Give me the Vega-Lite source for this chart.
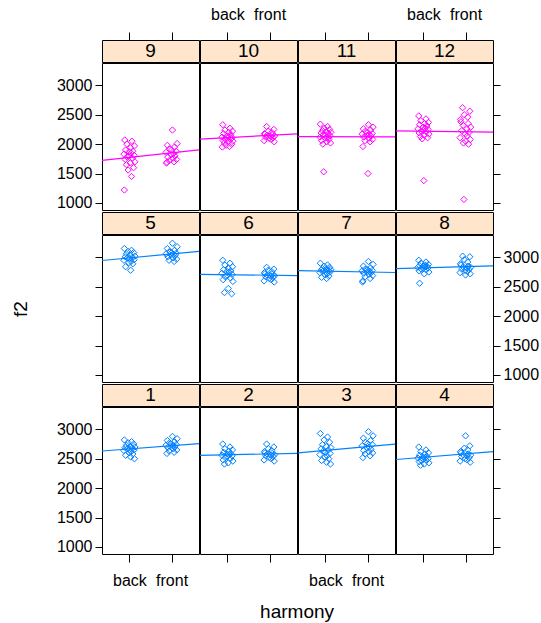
{
"$schema":"https://vega.github.io/schema/vega-lite/v6.json",
"padding":{"left":11,"top":5,"right":3,"bottom":3},
"config":{"font":"Liberation Sans","axis":{"domain":false,"grid":false,"tickColor":"#000000","labelColor":"#000000","labelFontSize":16,"titleFontSize":19,"titleFontWeight":"normal","titleColor":"#000000","tickWidth":1,"labelOverlap":false},"title":{"fontSize":19,"fontWeight":"normal","color":"#000000"},"concat":{"spacing":-5},"line":{"strokeJoin":"round","strokeCap":"butt"}},
"title":{"text":"harmony","orient":"bottom","anchor":"middle","offset":14,"dx":22},
"spacing":-5,
"data":{"values":[
{"panel":9,"hx":0.88,"f2":1220},{"panel":9,"hx":1.05,"f2":1450},{"panel":9,"hx":0.97,"f2":1560},{"panel":9,"hx":1.10,"f2":1600},{"panel":9,"hx":0.93,"f2":1650},{"panel":9,"hx":1.02,"f2":1680},{"panel":9,"hx":1.13,"f2":1700},{"panel":9,"hx":0.90,"f2":1740},{"panel":9,"hx":1.07,"f2":1760},{"panel":9,"hx":0.95,"f2":1780},{"panel":9,"hx":1.00,"f2":1800},{"panel":9,"hx":1.11,"f2":1810},{"panel":9,"hx":0.87,"f2":1830},{"panel":9,"hx":1.04,"f2":1850},{"panel":9,"hx":0.99,"f2":1870},{"panel":9,"hx":1.08,"f2":1880},{"panel":9,"hx":0.91,"f2":1900},{"panel":9,"hx":1.03,"f2":1940},{"panel":9,"hx":1.12,"f2":1970},{"panel":9,"hx":0.94,"f2":2000},{"panel":9,"hx":1.06,"f2":2050},{"panel":9,"hx":0.89,"f2":2070},
{"panel":9,"hx":2.02,"f2":2240},{"panel":9,"hx":2.13,"f2":2010},{"panel":9,"hx":1.90,"f2":1980},{"panel":9,"hx":2.07,"f2":1950},{"panel":9,"hx":1.95,"f2":1920},{"panel":9,"hx":2.00,"f2":1900},{"panel":9,"hx":2.11,"f2":1880},{"panel":9,"hx":1.87,"f2":1860},{"panel":9,"hx":2.04,"f2":1840},{"panel":9,"hx":1.99,"f2":1820},{"panel":9,"hx":2.08,"f2":1800},{"panel":9,"hx":1.91,"f2":1780},{"panel":9,"hx":2.03,"f2":1760},{"panel":9,"hx":2.12,"f2":1740},{"panel":9,"hx":1.94,"f2":1720},{"panel":9,"hx":2.06,"f2":1700},{"panel":9,"hx":1.89,"f2":1690},{"panel":9,"hx":1.88,"f2":1680},
{"panel":10,"hx":0.89,"f2":2330},{"panel":10,"hx":1.06,"f2":2270},{"panel":10,"hx":0.94,"f2":2240},{"panel":10,"hx":1.12,"f2":2220},{"panel":10,"hx":1.03,"f2":2200},{"panel":10,"hx":0.91,"f2":2180},{"panel":10,"hx":1.08,"f2":2160},{"panel":10,"hx":0.99,"f2":2140},{"panel":10,"hx":1.04,"f2":2130},{"panel":10,"hx":0.87,"f2":2120},{"panel":10,"hx":1.11,"f2":2110},{"panel":10,"hx":1.00,"f2":2100},{"panel":10,"hx":0.95,"f2":2090},{"panel":10,"hx":1.07,"f2":2080},{"panel":10,"hx":0.90,"f2":2060},{"panel":10,"hx":1.13,"f2":2050},{"panel":10,"hx":1.02,"f2":2040},{"panel":10,"hx":0.93,"f2":2020},{"panel":10,"hx":1.10,"f2":2000},{"panel":10,"hx":0.97,"f2":1980},{"panel":10,"hx":1.05,"f2":1960},{"panel":10,"hx":0.88,"f2":1950},
{"panel":10,"hx":1.93,"f2":2300},{"panel":10,"hx":2.10,"f2":2250},{"panel":10,"hx":1.97,"f2":2220},{"panel":10,"hx":2.05,"f2":2200},{"panel":10,"hx":1.88,"f2":2180},{"panel":10,"hx":1.89,"f2":2170},{"panel":10,"hx":2.06,"f2":2160},{"panel":10,"hx":1.94,"f2":2150},{"panel":10,"hx":2.12,"f2":2140},{"panel":10,"hx":2.03,"f2":2130},{"panel":10,"hx":1.91,"f2":2120},{"panel":10,"hx":2.08,"f2":2110},{"panel":10,"hx":1.99,"f2":2100},{"panel":10,"hx":2.04,"f2":2080},{"panel":10,"hx":1.87,"f2":2060},{"panel":10,"hx":2.11,"f2":2040},
{"panel":11,"hx":0.88,"f2":2340},{"panel":11,"hx":1.05,"f2":2300},{"panel":11,"hx":0.97,"f2":2270},{"panel":11,"hx":1.10,"f2":2250},{"panel":11,"hx":0.93,"f2":2230},{"panel":11,"hx":1.02,"f2":2210},{"panel":11,"hx":1.13,"f2":2200},{"panel":11,"hx":0.90,"f2":2190},{"panel":11,"hx":1.07,"f2":2180},{"panel":11,"hx":0.95,"f2":2160},{"panel":11,"hx":1.00,"f2":2150},{"panel":11,"hx":1.11,"f2":2140},{"panel":11,"hx":0.87,"f2":2120},{"panel":11,"hx":1.04,"f2":2110},{"panel":11,"hx":0.99,"f2":2100},{"panel":11,"hx":1.08,"f2":2080},{"panel":11,"hx":0.91,"f2":2060},{"panel":11,"hx":1.03,"f2":2040},{"panel":11,"hx":1.12,"f2":2020},{"panel":11,"hx":0.94,"f2":2000},{"panel":11,"hx":0.96,"f2":1530},
{"panel":11,"hx":2.02,"f2":2330},{"panel":11,"hx":2.13,"f2":2290},{"panel":11,"hx":1.90,"f2":2260},{"panel":11,"hx":2.07,"f2":2240},{"panel":11,"hx":1.95,"f2":2220},{"panel":11,"hx":2.00,"f2":2200},{"panel":11,"hx":2.11,"f2":2180},{"panel":11,"hx":1.87,"f2":2170},{"panel":11,"hx":2.04,"f2":2160},{"panel":11,"hx":1.99,"f2":2150},{"panel":11,"hx":2.08,"f2":2140},{"panel":11,"hx":1.91,"f2":2120},{"panel":11,"hx":2.03,"f2":2100},{"panel":11,"hx":2.12,"f2":2080},{"panel":11,"hx":1.94,"f2":2060},{"panel":11,"hx":2.06,"f2":2040},{"panel":11,"hx":1.89,"f2":1960},{"panel":11,"hx":2.01,"f2":1500},
{"panel":12,"hx":0.89,"f2":2480},{"panel":12,"hx":1.06,"f2":2430},{"panel":12,"hx":0.94,"f2":2400},{"panel":12,"hx":1.12,"f2":2370},{"panel":12,"hx":1.03,"f2":2350},{"panel":12,"hx":0.91,"f2":2330},{"panel":12,"hx":1.08,"f2":2310},{"panel":12,"hx":0.99,"f2":2290},{"panel":12,"hx":1.04,"f2":2270},{"panel":12,"hx":0.87,"f2":2260},{"panel":12,"hx":1.11,"f2":2250},{"panel":12,"hx":1.00,"f2":2230},{"panel":12,"hx":0.95,"f2":2220},{"panel":12,"hx":1.07,"f2":2210},{"panel":12,"hx":0.90,"f2":2190},{"panel":12,"hx":1.13,"f2":2170},{"panel":12,"hx":1.02,"f2":2150},{"panel":12,"hx":0.93,"f2":2130},{"panel":12,"hx":1.10,"f2":2110},{"panel":12,"hx":0.97,"f2":2090},{"panel":12,"hx":1.01,"f2":1380},
{"panel":12,"hx":1.93,"f2":2620},{"panel":12,"hx":2.10,"f2":2560},{"panel":12,"hx":1.97,"f2":2500},{"panel":12,"hx":2.05,"f2":2460},{"panel":12,"hx":1.88,"f2":2420},{"panel":12,"hx":1.89,"f2":2380},{"panel":12,"hx":2.06,"f2":2350},{"panel":12,"hx":1.94,"f2":2320},{"panel":12,"hx":2.12,"f2":2290},{"panel":12,"hx":2.03,"f2":2260},{"panel":12,"hx":1.91,"f2":2230},{"panel":12,"hx":2.08,"f2":2200},{"panel":12,"hx":1.99,"f2":2170},{"panel":12,"hx":2.04,"f2":2140},{"panel":12,"hx":1.87,"f2":2110},{"panel":12,"hx":2.11,"f2":2080},{"panel":12,"hx":2.00,"f2":2050},{"panel":12,"hx":1.95,"f2":2020},{"panel":12,"hx":2.07,"f2":2000},{"panel":12,"hx":1.96,"f2":1060},
{"panel":5,"hx":0.88,"f2":3150},{"panel":5,"hx":1.05,"f2":3120},{"panel":5,"hx":0.97,"f2":3100},{"panel":5,"hx":1.10,"f2":3080},{"panel":5,"hx":0.93,"f2":3060},{"panel":5,"hx":1.02,"f2":3040},{"panel":5,"hx":1.13,"f2":3020},{"panel":5,"hx":0.90,"f2":3010},{"panel":5,"hx":1.07,"f2":3000},{"panel":5,"hx":0.95,"f2":2990},{"panel":5,"hx":1.00,"f2":2980},{"panel":5,"hx":1.11,"f2":2960},{"panel":5,"hx":0.87,"f2":2950},{"panel":5,"hx":1.04,"f2":2930},{"panel":5,"hx":0.99,"f2":2910},{"panel":5,"hx":1.08,"f2":2890},{"panel":5,"hx":0.91,"f2":2840},{"panel":5,"hx":1.03,"f2":2780},
{"panel":5,"hx":2.02,"f2":3240},{"panel":5,"hx":2.13,"f2":3180},{"panel":5,"hx":1.90,"f2":3150},{"panel":5,"hx":2.07,"f2":3120},{"panel":5,"hx":1.95,"f2":3100},{"panel":5,"hx":2.00,"f2":3080},{"panel":5,"hx":2.11,"f2":3070},{"panel":5,"hx":1.87,"f2":3060},{"panel":5,"hx":2.04,"f2":3050},{"panel":5,"hx":1.99,"f2":3040},{"panel":5,"hx":2.08,"f2":3030},{"panel":5,"hx":1.91,"f2":3010},{"panel":5,"hx":2.03,"f2":2990},{"panel":5,"hx":2.12,"f2":2970},{"panel":5,"hx":1.94,"f2":2950},{"panel":5,"hx":2.06,"f2":2930},
{"panel":6,"hx":0.89,"f2":2950},{"panel":6,"hx":1.06,"f2":2900},{"panel":6,"hx":0.94,"f2":2870},{"panel":6,"hx":1.12,"f2":2840},{"panel":6,"hx":1.03,"f2":2810},{"panel":6,"hx":0.91,"f2":2790},{"panel":6,"hx":1.08,"f2":2770},{"panel":6,"hx":0.99,"f2":2760},{"panel":6,"hx":1.04,"f2":2750},{"panel":6,"hx":0.87,"f2":2730},{"panel":6,"hx":1.11,"f2":2710},{"panel":6,"hx":1.00,"f2":2690},{"panel":6,"hx":0.95,"f2":2670},{"panel":6,"hx":1.07,"f2":2650},{"panel":6,"hx":0.90,"f2":2620},{"panel":6,"hx":1.13,"f2":2590},{"panel":6,"hx":1.02,"f2":2470},{"panel":6,"hx":0.93,"f2":2400},{"panel":6,"hx":1.10,"f2":2380},
{"panel":6,"hx":1.93,"f2":2830},{"panel":6,"hx":2.10,"f2":2800},{"panel":6,"hx":1.97,"f2":2780},{"panel":6,"hx":2.05,"f2":2760},{"panel":6,"hx":1.88,"f2":2740},{"panel":6,"hx":1.89,"f2":2720},{"panel":6,"hx":2.06,"f2":2710},{"panel":6,"hx":1.94,"f2":2700},{"panel":6,"hx":2.12,"f2":2690},{"panel":6,"hx":2.03,"f2":2680},{"panel":6,"hx":1.91,"f2":2670},{"panel":6,"hx":2.08,"f2":2660},{"panel":6,"hx":1.99,"f2":2640},{"panel":6,"hx":2.04,"f2":2620},{"panel":6,"hx":1.87,"f2":2600},{"panel":6,"hx":2.11,"f2":2580},
{"panel":7,"hx":0.88,"f2":2900},{"panel":7,"hx":1.05,"f2":2870},{"panel":7,"hx":0.97,"f2":2850},{"panel":7,"hx":1.10,"f2":2830},{"panel":7,"hx":0.93,"f2":2810},{"panel":7,"hx":1.02,"f2":2800},{"panel":7,"hx":1.13,"f2":2790},{"panel":7,"hx":0.90,"f2":2780},{"panel":7,"hx":1.07,"f2":2780},{"panel":7,"hx":0.95,"f2":2770},{"panel":7,"hx":1.00,"f2":2760},{"panel":7,"hx":1.11,"f2":2750},{"panel":7,"hx":0.87,"f2":2740},{"panel":7,"hx":1.04,"f2":2720},{"panel":7,"hx":0.99,"f2":2700},{"panel":7,"hx":1.08,"f2":2680},{"panel":7,"hx":0.91,"f2":2660},{"panel":7,"hx":1.03,"f2":2640},
{"panel":7,"hx":2.02,"f2":2930},{"panel":7,"hx":2.13,"f2":2880},{"panel":7,"hx":1.90,"f2":2850},{"panel":7,"hx":2.07,"f2":2820},{"panel":7,"hx":1.95,"f2":2800},{"panel":7,"hx":2.00,"f2":2790},{"panel":7,"hx":2.11,"f2":2780},{"panel":7,"hx":1.87,"f2":2770},{"panel":7,"hx":2.04,"f2":2760},{"panel":7,"hx":1.99,"f2":2750},{"panel":7,"hx":2.08,"f2":2740},{"panel":7,"hx":1.91,"f2":2730},{"panel":7,"hx":2.03,"f2":2710},{"panel":7,"hx":2.12,"f2":2690},{"panel":7,"hx":1.94,"f2":2670},{"panel":7,"hx":2.06,"f2":2640},{"panel":7,"hx":1.89,"f2":2600},{"panel":7,"hx":1.88,"f2":2580},
{"panel":8,"hx":0.89,"f2":2950},{"panel":8,"hx":1.06,"f2":2920},{"panel":8,"hx":0.94,"f2":2900},{"panel":8,"hx":1.12,"f2":2880},{"panel":8,"hx":1.03,"f2":2870},{"panel":8,"hx":0.91,"f2":2860},{"panel":8,"hx":1.08,"f2":2850},{"panel":8,"hx":0.99,"f2":2850},{"panel":8,"hx":1.04,"f2":2840},{"panel":8,"hx":0.87,"f2":2830},{"panel":8,"hx":1.11,"f2":2820},{"panel":8,"hx":1.00,"f2":2810},{"panel":8,"hx":0.95,"f2":2800},{"panel":8,"hx":1.07,"f2":2790},{"panel":8,"hx":0.90,"f2":2770},{"panel":8,"hx":1.13,"f2":2750},{"panel":8,"hx":1.02,"f2":2720},{"panel":8,"hx":0.91,"f2":2560},
{"panel":8,"hx":1.93,"f2":3020},{"panel":8,"hx":2.10,"f2":3010},{"panel":8,"hx":1.97,"f2":2960},{"panel":8,"hx":2.05,"f2":2920},{"panel":8,"hx":1.88,"f2":2890},{"panel":8,"hx":1.89,"f2":2870},{"panel":8,"hx":2.06,"f2":2850},{"panel":8,"hx":1.94,"f2":2840},{"panel":8,"hx":2.12,"f2":2830},{"panel":8,"hx":2.03,"f2":2820},{"panel":8,"hx":1.91,"f2":2800},{"panel":8,"hx":2.08,"f2":2790},{"panel":8,"hx":1.99,"f2":2780},{"panel":8,"hx":2.04,"f2":2760},{"panel":8,"hx":1.87,"f2":2740},{"panel":8,"hx":2.11,"f2":2720},{"panel":8,"hx":2.00,"f2":2700},
{"panel":1,"hx":0.88,"f2":2820},{"panel":1,"hx":1.05,"f2":2790},{"panel":1,"hx":0.97,"f2":2770},{"panel":1,"hx":1.10,"f2":2750},{"panel":1,"hx":0.93,"f2":2730},{"panel":1,"hx":1.02,"f2":2710},{"panel":1,"hx":1.13,"f2":2700},{"panel":1,"hx":0.90,"f2":2690},{"panel":1,"hx":1.07,"f2":2680},{"panel":1,"hx":0.95,"f2":2670},{"panel":1,"hx":1.00,"f2":2660},{"panel":1,"hx":1.11,"f2":2650},{"panel":1,"hx":0.87,"f2":2640},{"panel":1,"hx":1.04,"f2":2620},{"panel":1,"hx":0.99,"f2":2600},{"panel":1,"hx":1.08,"f2":2580},{"panel":1,"hx":0.91,"f2":2560},{"panel":1,"hx":1.03,"f2":2530},{"panel":1,"hx":1.12,"f2":2500},
{"panel":1,"hx":2.02,"f2":2880},{"panel":1,"hx":2.13,"f2":2840},{"panel":1,"hx":1.90,"f2":2810},{"panel":1,"hx":2.07,"f2":2790},{"panel":1,"hx":1.95,"f2":2770},{"panel":1,"hx":2.00,"f2":2750},{"panel":1,"hx":2.11,"f2":2740},{"panel":1,"hx":1.87,"f2":2730},{"panel":1,"hx":2.04,"f2":2720},{"panel":1,"hx":1.99,"f2":2710},{"panel":1,"hx":2.08,"f2":2700},{"panel":1,"hx":1.91,"f2":2690},{"panel":1,"hx":2.03,"f2":2670},{"panel":1,"hx":2.12,"f2":2650},{"panel":1,"hx":1.94,"f2":2630},{"panel":1,"hx":2.06,"f2":2610},{"panel":1,"hx":1.89,"f2":2590},
{"panel":2,"hx":0.89,"f2":2750},{"panel":2,"hx":1.06,"f2":2700},{"panel":2,"hx":0.94,"f2":2670},{"panel":2,"hx":1.12,"f2":2650},{"panel":2,"hx":1.03,"f2":2630},{"panel":2,"hx":0.91,"f2":2610},{"panel":2,"hx":1.08,"f2":2590},{"panel":2,"hx":0.99,"f2":2580},{"panel":2,"hx":1.04,"f2":2570},{"panel":2,"hx":0.87,"f2":2560},{"panel":2,"hx":1.11,"f2":2550},{"panel":2,"hx":1.00,"f2":2540},{"panel":2,"hx":0.95,"f2":2520},{"panel":2,"hx":1.07,"f2":2500},{"panel":2,"hx":0.90,"f2":2480},{"panel":2,"hx":1.13,"f2":2460},{"panel":2,"hx":1.02,"f2":2430},{"panel":2,"hx":0.93,"f2":2410},
{"panel":2,"hx":1.93,"f2":2750},{"panel":2,"hx":2.10,"f2":2700},{"panel":2,"hx":1.97,"f2":2670},{"panel":2,"hx":2.05,"f2":2640},{"panel":2,"hx":1.88,"f2":2620},{"panel":2,"hx":1.89,"f2":2600},{"panel":2,"hx":2.06,"f2":2590},{"panel":2,"hx":1.94,"f2":2580},{"panel":2,"hx":2.12,"f2":2570},{"panel":2,"hx":2.03,"f2":2560},{"panel":2,"hx":1.91,"f2":2550},{"panel":2,"hx":2.08,"f2":2540},{"panel":2,"hx":1.99,"f2":2520},{"panel":2,"hx":2.04,"f2":2500},{"panel":2,"hx":1.87,"f2":2480},{"panel":2,"hx":2.11,"f2":2460},
{"panel":3,"hx":0.88,"f2":2930},{"panel":3,"hx":1.05,"f2":2870},{"panel":3,"hx":0.97,"f2":2820},{"panel":3,"hx":1.10,"f2":2780},{"panel":3,"hx":0.93,"f2":2740},{"panel":3,"hx":1.02,"f2":2710},{"panel":3,"hx":1.13,"f2":2690},{"panel":3,"hx":0.90,"f2":2670},{"panel":3,"hx":1.07,"f2":2650},{"panel":3,"hx":0.95,"f2":2630},{"panel":3,"hx":1.00,"f2":2610},{"panel":3,"hx":1.11,"f2":2590},{"panel":3,"hx":0.87,"f2":2570},{"panel":3,"hx":1.04,"f2":2550},{"panel":3,"hx":0.99,"f2":2530},{"panel":3,"hx":1.08,"f2":2500},{"panel":3,"hx":0.91,"f2":2470},{"panel":3,"hx":1.03,"f2":2440},{"panel":3,"hx":1.12,"f2":2410},
{"panel":3,"hx":2.02,"f2":2960},{"panel":3,"hx":2.13,"f2":2890},{"panel":3,"hx":1.90,"f2":2850},{"panel":3,"hx":2.07,"f2":2810},{"panel":3,"hx":1.95,"f2":2780},{"panel":3,"hx":2.00,"f2":2760},{"panel":3,"hx":2.11,"f2":2740},{"panel":3,"hx":1.87,"f2":2720},{"panel":3,"hx":2.04,"f2":2700},{"panel":3,"hx":1.99,"f2":2680},{"panel":3,"hx":2.08,"f2":2660},{"panel":3,"hx":1.91,"f2":2640},{"panel":3,"hx":2.03,"f2":2620},{"panel":3,"hx":2.12,"f2":2600},{"panel":3,"hx":1.94,"f2":2580},{"panel":3,"hx":2.06,"f2":2550},{"panel":3,"hx":1.89,"f2":2520},
{"panel":4,"hx":0.89,"f2":2700},{"panel":4,"hx":1.06,"f2":2650},{"panel":4,"hx":0.94,"f2":2620},{"panel":4,"hx":1.12,"f2":2600},{"panel":4,"hx":1.03,"f2":2580},{"panel":4,"hx":0.91,"f2":2560},{"panel":4,"hx":1.08,"f2":2540},{"panel":4,"hx":0.99,"f2":2530},{"panel":4,"hx":1.04,"f2":2520},{"panel":4,"hx":0.87,"f2":2510},{"panel":4,"hx":1.11,"f2":2500},{"panel":4,"hx":1.00,"f2":2490},{"panel":4,"hx":0.95,"f2":2480},{"panel":4,"hx":1.07,"f2":2470},{"panel":4,"hx":0.90,"f2":2450},{"panel":4,"hx":1.13,"f2":2430},{"panel":4,"hx":1.02,"f2":2410},{"panel":4,"hx":0.93,"f2":2390},
{"panel":4,"hx":2.00,"f2":2890},{"panel":4,"hx":2.10,"f2":2720},{"panel":4,"hx":1.97,"f2":2680},{"panel":4,"hx":2.05,"f2":2650},{"panel":4,"hx":1.88,"f2":2620},{"panel":4,"hx":1.89,"f2":2600},{"panel":4,"hx":2.06,"f2":2580},{"panel":4,"hx":1.94,"f2":2570},{"panel":4,"hx":2.12,"f2":2560},{"panel":4,"hx":2.03,"f2":2550},{"panel":4,"hx":1.91,"f2":2540},{"panel":4,"hx":2.08,"f2":2520},{"panel":4,"hx":1.99,"f2":2500},{"panel":4,"hx":2.04,"f2":2480},{"panel":4,"hx":1.87,"f2":2460},{"panel":4,"hx":2.11,"f2":2440}
]},
"vconcat":[
{"hconcat":[
 {"vconcat":[
  {"width":97,"height":22,"view":{"fill":"#FFE5CC","stroke":"#000000"},"transform":[{"filter":"datum.panel==9"},{"aggregate":[{"op":"count","as":"n"}],"groupby":["panel"]}],"mark":{"type":"text","fontSize":19,"color":"#000000"},"encoding":{"text":{"field":"panel","type":"nominal"},"x":{"datum":1.5,"type":"quantitative","scale":{"domain":[0.35,2.65],"nice":false,"zero":false},"axis":{"orient":"top","values":[1,2],"labels":false,"title":null,"tickSize":8}}}},
  {"width":97,"height":147,"view":{"stroke":"#000000"},"transform":[{"filter":"datum.panel==9"}],
   "encoding":{"x":{"field":"hx","type":"quantitative","scale":{"domain":[0.35,2.65],"nice":false,"zero":false},"axis":null},"y":{"field":"f2","type":"quantitative","scale":{"domain":[880,3380],"nice":false,"zero":false},"axis":{"orient":"left","values":[1000,1500,2000,2500,3000],"format":"d","title":null,"tickSize":7,"labelPadding":3}}},
   "layer":[{"mark":{"type":"point","shape":"diamond","filled":false,"size":40,"strokeWidth":1,"opacity":1,"color":"#FF00FF"}},{"transform":[{"regression":"f2","on":"hx","extent":[0.35,2.65]}],"mark":{"type":"line","color":"#FF00FF","strokeWidth":1.2,"clip":true},"encoding":{}}]}
 ],"spacing":-5},
 {"vconcat":[
  {"width":97,"height":22,"view":{"fill":"#FFE5CC","stroke":"#000000"},"transform":[{"filter":"datum.panel==10"},{"aggregate":[{"op":"count","as":"n"}],"groupby":["panel"]}],"mark":{"type":"text","fontSize":19,"color":"#000000"},"encoding":{"text":{"field":"panel","type":"nominal"},"x":{"datum":1.5,"type":"quantitative","scale":{"domain":[0.35,2.65],"nice":false,"zero":false},"axis":{"orient":"top","values":[1,2],"labelExpr":"datum.value==1?'back':'front'","title":null,"tickSize":8,"labelPadding":10}}}},
  {"width":97,"height":147,"view":{"stroke":"#000000"},"transform":[{"filter":"datum.panel==10"}],
   "encoding":{"x":{"field":"hx","type":"quantitative","scale":{"domain":[0.35,2.65],"nice":false,"zero":false},"axis":null},"y":{"field":"f2","type":"quantitative","scale":{"domain":[880,3380],"nice":false,"zero":false},"axis":null}},
   "layer":[{"mark":{"type":"point","shape":"diamond","filled":false,"size":40,"strokeWidth":1,"opacity":1,"color":"#FF00FF"}},{"transform":[{"regression":"f2","on":"hx","extent":[0.35,2.65]}],"mark":{"type":"line","color":"#FF00FF","strokeWidth":1.2,"clip":true},"encoding":{}}]}
 ],"spacing":-5},
 {"vconcat":[
  {"width":97,"height":22,"view":{"fill":"#FFE5CC","stroke":"#000000"},"transform":[{"filter":"datum.panel==11"},{"aggregate":[{"op":"count","as":"n"}],"groupby":["panel"]}],"mark":{"type":"text","fontSize":19,"color":"#000000"},"encoding":{"text":{"field":"panel","type":"nominal"},"x":{"datum":1.5,"type":"quantitative","scale":{"domain":[0.35,2.65],"nice":false,"zero":false},"axis":{"orient":"top","values":[1,2],"labels":false,"title":null,"tickSize":8}}}},
  {"width":97,"height":147,"view":{"stroke":"#000000"},"transform":[{"filter":"datum.panel==11"}],
   "encoding":{"x":{"field":"hx","type":"quantitative","scale":{"domain":[0.35,2.65],"nice":false,"zero":false},"axis":null},"y":{"field":"f2","type":"quantitative","scale":{"domain":[880,3380],"nice":false,"zero":false},"axis":null}},
   "layer":[{"mark":{"type":"point","shape":"diamond","filled":false,"size":40,"strokeWidth":1,"opacity":1,"color":"#FF00FF"}},{"transform":[{"regression":"f2","on":"hx","extent":[0.35,2.65]}],"mark":{"type":"line","color":"#FF00FF","strokeWidth":1.2,"clip":true},"encoding":{}}]}
 ],"spacing":-5},
 {"vconcat":[
  {"width":97,"height":22,"view":{"fill":"#FFE5CC","stroke":"#000000"},"transform":[{"filter":"datum.panel==12"},{"aggregate":[{"op":"count","as":"n"}],"groupby":["panel"]}],"mark":{"type":"text","fontSize":19,"color":"#000000"},"encoding":{"text":{"field":"panel","type":"nominal"},"x":{"datum":1.5,"type":"quantitative","scale":{"domain":[0.35,2.65],"nice":false,"zero":false},"axis":{"orient":"top","values":[1,2],"labelExpr":"datum.value==1?'back':'front'","title":null,"tickSize":8,"labelPadding":10}}}},
  {"width":97,"height":147,"view":{"stroke":"#000000"},"transform":[{"filter":"datum.panel==12"}],
   "encoding":{"x":{"field":"hx","type":"quantitative","scale":{"domain":[0.35,2.65],"nice":false,"zero":false},"axis":null},"y":{"field":"f2","type":"quantitative","scale":{"domain":[880,3380],"nice":false,"zero":false},"axis":{"orient":"right","values":[1000,1500,2000,2500,3000],"labels":false,"title":null,"tickSize":7}}},
   "layer":[{"mark":{"type":"point","shape":"diamond","filled":false,"size":40,"strokeWidth":1,"opacity":1,"color":"#FF00FF"}},{"transform":[{"regression":"f2","on":"hx","extent":[0.35,2.65]}],"mark":{"type":"line","color":"#FF00FF","strokeWidth":1.2,"clip":true},"encoding":{}}]}
 ],"spacing":-5}
],"spacing":-5},
{"hconcat":[
 {"vconcat":[
  {"width":97,"height":22,"view":{"fill":"#FFE5CC","stroke":"#000000"},"transform":[{"filter":"datum.panel==5"},{"aggregate":[{"op":"count","as":"n"}],"groupby":["panel"]}],"mark":{"type":"text","fontSize":19,"color":"#000000"},"encoding":{"text":{"field":"panel","type":"nominal"},"x":{"datum":1.5,"type":"quantitative","scale":{"domain":[0.35,2.65],"nice":false,"zero":false},"axis":null}}},
  {"width":97,"height":147,"view":{"stroke":"#000000"},"transform":[{"filter":"datum.panel==5"}],
   "encoding":{"x":{"field":"hx","type":"quantitative","scale":{"domain":[0.35,2.65],"nice":false,"zero":false},"axis":null},"y":{"field":"f2","type":"quantitative","scale":{"domain":[880,3380],"nice":false,"zero":false},"axis":{"orient":"left","values":[1000,1500,2000,2500,3000],"labels":false,"title":"f2","titlePadding":64,"tickSize":7}}},
   "layer":[{"mark":{"type":"point","shape":"diamond","filled":false,"size":40,"strokeWidth":1,"opacity":1,"color":"#0080FF"}},{"transform":[{"regression":"f2","on":"hx","extent":[0.35,2.65]}],"mark":{"type":"line","color":"#0080FF","strokeWidth":1.2,"clip":true},"encoding":{}}]}
 ],"spacing":-5},
 {"vconcat":[
  {"width":97,"height":22,"view":{"fill":"#FFE5CC","stroke":"#000000"},"transform":[{"filter":"datum.panel==6"},{"aggregate":[{"op":"count","as":"n"}],"groupby":["panel"]}],"mark":{"type":"text","fontSize":19,"color":"#000000"},"encoding":{"text":{"field":"panel","type":"nominal"},"x":{"datum":1.5,"type":"quantitative","scale":{"domain":[0.35,2.65],"nice":false,"zero":false},"axis":null}}},
  {"width":97,"height":147,"view":{"stroke":"#000000"},"transform":[{"filter":"datum.panel==6"}],
   "encoding":{"x":{"field":"hx","type":"quantitative","scale":{"domain":[0.35,2.65],"nice":false,"zero":false},"axis":null},"y":{"field":"f2","type":"quantitative","scale":{"domain":[880,3380],"nice":false,"zero":false},"axis":null}},
   "layer":[{"mark":{"type":"point","shape":"diamond","filled":false,"size":40,"strokeWidth":1,"opacity":1,"color":"#0080FF"}},{"transform":[{"regression":"f2","on":"hx","extent":[0.35,2.65]}],"mark":{"type":"line","color":"#0080FF","strokeWidth":1.2,"clip":true},"encoding":{}}]}
 ],"spacing":-5},
 {"vconcat":[
  {"width":97,"height":22,"view":{"fill":"#FFE5CC","stroke":"#000000"},"transform":[{"filter":"datum.panel==7"},{"aggregate":[{"op":"count","as":"n"}],"groupby":["panel"]}],"mark":{"type":"text","fontSize":19,"color":"#000000"},"encoding":{"text":{"field":"panel","type":"nominal"},"x":{"datum":1.5,"type":"quantitative","scale":{"domain":[0.35,2.65],"nice":false,"zero":false},"axis":null}}},
  {"width":97,"height":147,"view":{"stroke":"#000000"},"transform":[{"filter":"datum.panel==7"}],
   "encoding":{"x":{"field":"hx","type":"quantitative","scale":{"domain":[0.35,2.65],"nice":false,"zero":false},"axis":null},"y":{"field":"f2","type":"quantitative","scale":{"domain":[880,3380],"nice":false,"zero":false},"axis":null}},
   "layer":[{"mark":{"type":"point","shape":"diamond","filled":false,"size":40,"strokeWidth":1,"opacity":1,"color":"#0080FF"}},{"transform":[{"regression":"f2","on":"hx","extent":[0.35,2.65]}],"mark":{"type":"line","color":"#0080FF","strokeWidth":1.2,"clip":true},"encoding":{}}]}
 ],"spacing":-5},
 {"vconcat":[
  {"width":97,"height":22,"view":{"fill":"#FFE5CC","stroke":"#000000"},"transform":[{"filter":"datum.panel==8"},{"aggregate":[{"op":"count","as":"n"}],"groupby":["panel"]}],"mark":{"type":"text","fontSize":19,"color":"#000000"},"encoding":{"text":{"field":"panel","type":"nominal"},"x":{"datum":1.5,"type":"quantitative","scale":{"domain":[0.35,2.65],"nice":false,"zero":false},"axis":null}}},
  {"width":97,"height":147,"view":{"stroke":"#000000"},"transform":[{"filter":"datum.panel==8"}],
   "encoding":{"x":{"field":"hx","type":"quantitative","scale":{"domain":[0.35,2.65],"nice":false,"zero":false},"axis":null},"y":{"field":"f2","type":"quantitative","scale":{"domain":[880,3380],"nice":false,"zero":false},"axis":{"orient":"right","values":[1000,1500,2000,2500,3000],"format":"d","title":null,"tickSize":7,"labelPadding":3}}},
   "layer":[{"mark":{"type":"point","shape":"diamond","filled":false,"size":40,"strokeWidth":1,"opacity":1,"color":"#0080FF"}},{"transform":[{"regression":"f2","on":"hx","extent":[0.35,2.65]}],"mark":{"type":"line","color":"#0080FF","strokeWidth":1.2,"clip":true},"encoding":{}}]}
 ],"spacing":-5}
],"spacing":-5},
{"hconcat":[
 {"vconcat":[
  {"width":97,"height":22,"view":{"fill":"#FFE5CC","stroke":"#000000"},"transform":[{"filter":"datum.panel==1"},{"aggregate":[{"op":"count","as":"n"}],"groupby":["panel"]}],"mark":{"type":"text","fontSize":19,"color":"#000000"},"encoding":{"text":{"field":"panel","type":"nominal"},"x":{"datum":1.5,"type":"quantitative","scale":{"domain":[0.35,2.65],"nice":false,"zero":false},"axis":null}}},
  {"width":97,"height":147,"view":{"stroke":"#000000"},"transform":[{"filter":"datum.panel==1"}],
   "encoding":{"x":{"field":"hx","type":"quantitative","scale":{"domain":[0.35,2.65],"nice":false,"zero":false},"axis":{"orient":"bottom","values":[1,2],"labelExpr":"datum.value==1?'back':'front'","title":null,"tickSize":8,"labelPadding":10}},"y":{"field":"f2","type":"quantitative","scale":{"domain":[880,3380],"nice":false,"zero":false},"axis":{"orient":"left","values":[1000,1500,2000,2500,3000],"format":"d","title":null,"tickSize":7,"labelPadding":3}}},
   "layer":[{"mark":{"type":"point","shape":"diamond","filled":false,"size":40,"strokeWidth":1,"opacity":1,"color":"#0080FF"}},{"transform":[{"regression":"f2","on":"hx","extent":[0.35,2.65]}],"mark":{"type":"line","color":"#0080FF","strokeWidth":1.2,"clip":true},"encoding":{}}]}
 ],"spacing":-5},
 {"vconcat":[
  {"width":97,"height":22,"view":{"fill":"#FFE5CC","stroke":"#000000"},"transform":[{"filter":"datum.panel==2"},{"aggregate":[{"op":"count","as":"n"}],"groupby":["panel"]}],"mark":{"type":"text","fontSize":19,"color":"#000000"},"encoding":{"text":{"field":"panel","type":"nominal"},"x":{"datum":1.5,"type":"quantitative","scale":{"domain":[0.35,2.65],"nice":false,"zero":false},"axis":null}}},
  {"width":97,"height":147,"view":{"stroke":"#000000"},"transform":[{"filter":"datum.panel==2"}],
   "encoding":{"x":{"field":"hx","type":"quantitative","scale":{"domain":[0.35,2.65],"nice":false,"zero":false},"axis":{"orient":"bottom","values":[1,2],"labels":false,"title":null,"tickSize":8}},"y":{"field":"f2","type":"quantitative","scale":{"domain":[880,3380],"nice":false,"zero":false},"axis":null}},
   "layer":[{"mark":{"type":"point","shape":"diamond","filled":false,"size":40,"strokeWidth":1,"opacity":1,"color":"#0080FF"}},{"transform":[{"regression":"f2","on":"hx","extent":[0.35,2.65]}],"mark":{"type":"line","color":"#0080FF","strokeWidth":1.2,"clip":true},"encoding":{}}]}
 ],"spacing":-5},
 {"vconcat":[
  {"width":97,"height":22,"view":{"fill":"#FFE5CC","stroke":"#000000"},"transform":[{"filter":"datum.panel==3"},{"aggregate":[{"op":"count","as":"n"}],"groupby":["panel"]}],"mark":{"type":"text","fontSize":19,"color":"#000000"},"encoding":{"text":{"field":"panel","type":"nominal"},"x":{"datum":1.5,"type":"quantitative","scale":{"domain":[0.35,2.65],"nice":false,"zero":false},"axis":null}}},
  {"width":97,"height":147,"view":{"stroke":"#000000"},"transform":[{"filter":"datum.panel==3"}],
   "encoding":{"x":{"field":"hx","type":"quantitative","scale":{"domain":[0.35,2.65],"nice":false,"zero":false},"axis":{"orient":"bottom","values":[1,2],"labelExpr":"datum.value==1?'back':'front'","title":null,"tickSize":8,"labelPadding":10}},"y":{"field":"f2","type":"quantitative","scale":{"domain":[880,3380],"nice":false,"zero":false},"axis":null}},
   "layer":[{"mark":{"type":"point","shape":"diamond","filled":false,"size":40,"strokeWidth":1,"opacity":1,"color":"#0080FF"}},{"transform":[{"regression":"f2","on":"hx","extent":[0.35,2.65]}],"mark":{"type":"line","color":"#0080FF","strokeWidth":1.2,"clip":true},"encoding":{}}]}
 ],"spacing":-5},
 {"vconcat":[
  {"width":97,"height":22,"view":{"fill":"#FFE5CC","stroke":"#000000"},"transform":[{"filter":"datum.panel==4"},{"aggregate":[{"op":"count","as":"n"}],"groupby":["panel"]}],"mark":{"type":"text","fontSize":19,"color":"#000000"},"encoding":{"text":{"field":"panel","type":"nominal"},"x":{"datum":1.5,"type":"quantitative","scale":{"domain":[0.35,2.65],"nice":false,"zero":false},"axis":null}}},
  {"width":97,"height":147,"view":{"stroke":"#000000"},"transform":[{"filter":"datum.panel==4"}],
   "encoding":{"x":{"field":"hx","type":"quantitative","scale":{"domain":[0.35,2.65],"nice":false,"zero":false},"axis":{"orient":"bottom","values":[1,2],"labels":false,"title":null,"tickSize":8}},"y":{"field":"f2","type":"quantitative","scale":{"domain":[880,3380],"nice":false,"zero":false},"axis":{"orient":"right","values":[1000,1500,2000,2500,3000],"labels":false,"title":null,"tickSize":7}}},
   "layer":[{"mark":{"type":"point","shape":"diamond","filled":false,"size":40,"strokeWidth":1,"opacity":1,"color":"#0080FF"}},{"transform":[{"regression":"f2","on":"hx","extent":[0.35,2.65]}],"mark":{"type":"line","color":"#0080FF","strokeWidth":1.2,"clip":true},"encoding":{}}]}
 ],"spacing":-5}
],"spacing":-5}
]
}
